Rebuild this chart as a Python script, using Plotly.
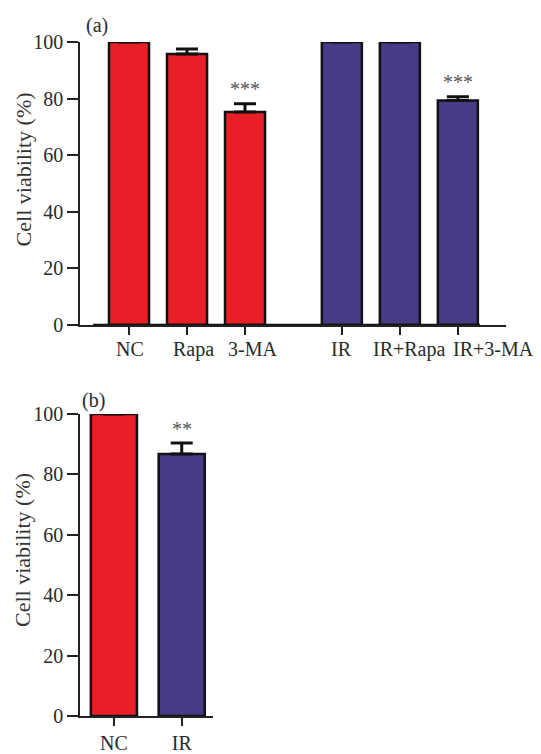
import plotly.graph_objects as go

# ---------------- data ----------------
labels_a = ["NC", "Rapa", "3-MA", "IR", "IR+Rapa", "IR+3-MA"]
groups_a = ["ctrl", "ctrl", "ctrl", "IR", "IR", "IR"]
values_a = [100, 95.8, 75.3, 100, 100, 79.3]
errors_a = [0, 1.7, 2.9, 0, 0, 1.4]
stars_a = ["", "", "***", "", "", "***"]

labels_b = ["NC", "IR"]
groups_b = ["ctrl", "IR"]
values_b = [100, 86.8]
errors_b = [0, 3.6]
stars_b = ["", "**"]

y_ticks = [0, 20, 40, 60, 80, 100]
y_title = "Cell viability (%)"

# ---------------- style ----------------
COLORS = {"ctrl": "#E81F27", "IR": "#473B86"}
FONT = "Liberation Serif"
TXT = "#2a2a2a"
FS = 20
# horizontal nudges of the category labels in panel (a), in pixels
LABEL_SHIFT_A = [1, 6, 7, 0, 9, 36]

def positions(groups, gap):
    pos, off = [], 0.0
    for i, g in enumerate(groups):
        if i > 0 and g != groups[i - 1]:
            off += gap
        pos.append(i + off)
    return pos

xa = positions(groups_a, 0.67)
xb = positions(groups_b, 0.0)

fig = go.Figure()

fig.add_trace(go.Bar(
    x=xa, y=values_a, width=0.69,
    marker=dict(color=[COLORS[g] for g in groups_a], line=dict(color="#111", width=2.5)),
    error_y=dict(type="data", symmetric=False, array=errors_a, arrayminus=[0]*len(errors_a),
                 color="#111", thickness=3, width=11),
    xaxis="x", yaxis="y", showlegend=False, cliponaxis=False,
))
fig.add_trace(go.Bar(
    x=xb, y=values_b, width=0.68,
    marker=dict(color=[COLORS[g] for g in groups_b], line=dict(color="#111", width=2.5)),
    error_y=dict(type="data", symmetric=False, array=errors_b, arrayminus=[0]*len(errors_b),
                 color="#111", thickness=3, width=11),
    xaxis="x2", yaxis="y2", showlegend=False, cliponaxis=False,
))

annotations = []
for x, v, e, s in zip(xa, values_a, errors_a, stars_a):
    if s:
        annotations.append(dict(x=x, y=v + e, xref="x", yref="y", text=s, showarrow=False,
                                yanchor="bottom", yshift=2, font=dict(family=FONT, size=FS, color="#555")))
for x, v, e, s in zip(xb, values_b, errors_b, stars_b):
    if s:
        annotations.append(dict(x=x, y=v + e, xref="x2", yref="y2", text=s, showarrow=False,
                                yanchor="bottom", yshift=1, font=dict(family=FONT, size=FS, color="#555")))
# category labels of panel (a)
for x, lab, sh in zip(xa, labels_a, LABEL_SHIFT_A):
    annotations.append(dict(x=x, y=0, xref="x", yref="y", text=lab, showarrow=False,
                            yanchor="top", yshift=-11, xshift=sh,
                            font=dict(family=FONT, size=FS, color=TXT)))
# y-axis titles
for yref in ("y", "y2"):
    annotations.append(dict(x=0, y=55, xref="paper", yref=yref, text=y_title, showarrow=False,
                            textangle=-90, xanchor="center", yanchor="middle", xshift=-57,
                            font=dict(family=FONT, size=22, color="#333")))
annotations.append(dict(x=-0.78, y=100, xref="x", yref="y", text="(a)", showarrow=False,
                        xanchor="left", yanchor="bottom", yshift=3,
                        font=dict(family=FONT, size=FS, color=TXT)))
annotations.append(dict(x=-0.5, y=100, xref="x2", yref="y2", text="(b)", showarrow=False,
                        xanchor="left", yanchor="bottom", yshift=0,
                        font=dict(family=FONT, size=FS, color=TXT)))

shapes = [
    dict(type="line", xref="x", yref="y", x0=min(xa) - 0.62, x1=max(xa) + 0.38, y0=0, y1=0,
         line=dict(color="#111", width=2.5)),
]

axis_common = dict(showgrid=False, zeroline=False, showline=True, linecolor="#222", linewidth=1.5,
                   ticks="outside", tickwidth=1.5, tickcolor="#222", automargin=False,
                   tickfont=dict(family=FONT, size=FS, color=TXT))

# page body has an 8px margin, so the figure is 16px smaller than the window
fig.update_layout(
    width=533, height=746,
    margin=dict(l=72, r=35, t=34, b=38),
    paper_bgcolor="white", plot_bgcolor="white",
    xaxis=dict(domain=[0, 1], range=[-0.845, 6.5], tickvals=xa, ticktext=[""] * len(xa),
               anchor="y", tickangle=0, ticklen=8, **axis_common),
    yaxis=dict(domain=[0.580, 1.0], range=[0, 100], tickvals=y_ticks, anchor="x", ticklen=11,
               **axis_common),
    xaxis2=dict(domain=[0, 0.312], range=[-0.5, 1.46], tickvals=xb, ticktext=labels_b,
                anchor="y2", tickangle=0, ticklen=8, **axis_common),
    yaxis2=dict(domain=[0, 0.448], range=[0, 100], tickvals=y_ticks, anchor="x2", ticklen=11,
                **axis_common),
    annotations=annotations,
    shapes=shapes,
)

fig.write_html("out.html")
